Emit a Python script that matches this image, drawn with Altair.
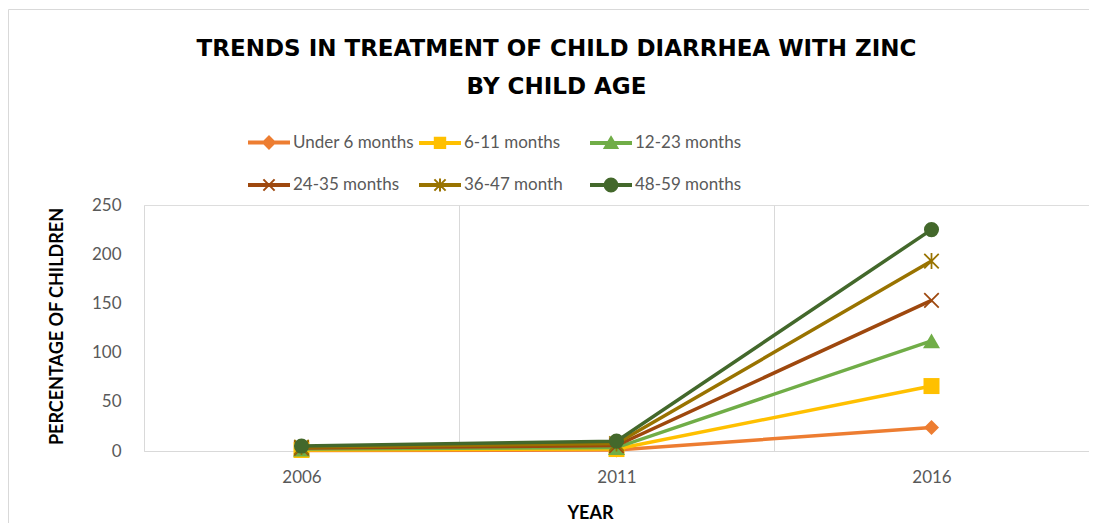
import altair as alt
import pandas as pd

# ---- data (stacked line chart) ----
years = [2006, 2011, 2016]
series = ["Under 6 months", "6-11 months", "12-23 months",
          "24-35 months", "36-47 month", "48-59 months"]
under_6 = [0.5, 1.0, 24]
m_6_11 = [0.5, 1.0, 42]
m_12_23 = [1.0, 1.5, 46]
m_24_35 = [1.0, 2.0, 41]
m_36_47 = [1.0, 2.0, 40]
m_48_59 = [1.0, 2.5, 32]
y_ticks = [0, 50, 100, 150, 200, 250]
x_grid = [2003.5, 2006, 2008.5, 2011, 2013.5, 2016, 2018.5]

values = [under_6, m_6_11, m_12_23, m_24_35, m_36_47, m_48_59]
colors = ["#ED7D31", "#FFC000", "#70AD47", "#9E480E", "#997300", "#43682B"]

rows = []
for i, (name, vals) in enumerate(zip(series, values)):
    for yr, v in zip(years, vals):
        rows.append({"year": yr, "series": name, "order": i, "value": v})
df = pd.DataFrame(rows)

# ---- marker styles ----
X_PATH = "M-1,-1L1,1M-1,1L1,-1"
STAR_PATH = "M-1,-1L1,1M-1,1L1,-1M0,-1.1L0,1.1"
markers = [
    dict(shape="diamond", filled=True, size=225),
    dict(shape="square", filled=True, size=256),
    dict(shape="triangle-up", filled=True, size=289),
    dict(shape=X_PATH, filled=False, size=210, strokeWidth=1.75),
    dict(shape=STAR_PATH, filled=False, size=210, strokeWidth=1.75),
    dict(shape="circle", filled=True, size=227),
]

LINE = "M-1,-0.05H1V0.05H-1Z"
legend_paths = [
    LINE + "M0,-0.3L0.3,0L0,0.3L-0.3,0Z",
    LINE + "M-0.26,-0.26H0.26V0.26H-0.26Z",
    LINE + "M0,-0.3L0.32,0.24L-0.32,0.24Z",
    LINE + "M-0.28,-0.28L0.28,0.28M-0.28,0.28L0.28,-0.28",
    LINE + "M-0.28,-0.28L0.28,0.28M-0.28,0.28L0.28,-0.28M0,-0.32L0,0.32",
    LINE + "M-0.32,0A0.32,0.32 0 1,0 0.32,0A0.32,0.32 0 1,0 -0.32,0Z",
]

GRAY = "#595959"
GRID = "#D9D9D9"

x_enc = alt.X(
    "year:Q",
    scale=alt.Scale(domain=[2003.5, 2018.5], nice=False, zero=False),
    axis=alt.Axis(
        values=x_grid,
        labelExpr="datum.value % 1 === 0 ? toString(datum.value) : ''",
        labelOverlap=False, labelFlush=False,
        ticks=False, tickSize=0, labelPadding=18,
        labelFont="Lato", labelFontSize=17, labelColor=GRAY,
        domain=True, domainColor=GRID, domainWidth=1,
        grid=True, gridColor=GRID, gridWidth=1,
        gridOpacity={"condition": {"test": "datum.value % 1 === 0", "value": 0}, "value": 1},
        title="YEAR", titleFont="Lato", titleFontSize=18, titleFontWeight="bold",
        titleColor="#000000", titleX=446, titleY=62, titleBaseline="middle",
        titleAlign="center",
    ),
)
y_enc = alt.Y(
    "total:Q",
    scale=alt.Scale(domain=[0, 250], nice=False),
    axis=alt.Axis(
        values=y_ticks, grid=False, domain=False, ticks=False, tickSize=0,
        labelPadding=23, labelFont="Lato", labelFontSize=17, labelColor=GRAY,
        title="PERCENTAGE OF CHILDREN", titleFont="Lato", titleFontSize=18,
        titleFontWeight="bold", titleColor="#000000",
        titleX=-87, titleY=121, titleAngle=270, titleBaseline="middle",
        titleAlign="center",
    ),
)

base = alt.Chart(df).transform_window(
    total="sum(value)", groupby=["year"],
    sort=[alt.SortField("order")], frame=[None, 0],
)

layers = []

# chart-area border
frame = alt.Chart(pd.DataFrame({"frame": [0]})).mark_rect(
    fillOpacity=0, stroke=GRID, strokeWidth=1
).encode(
    x=alt.value(-135.5), x2=alt.value(950),
    y=alt.value(-195.5), y2=alt.value(400),
)
layers.append(frame)

for i, name in enumerate(series):
    sub = base.transform_filter(alt.datum.series == name)
    layers.append(
        sub.mark_line(color=colors[i], strokeWidth=3.5).encode(x=x_enc, y=y_enc)
    )
    m = markers[i]
    layers.append(
        sub.mark_point(color=colors[i], opacity=1, **m).encode(x=x_enc, y=y_enc)
    )

leg = alt.Legend(
    title=None, orient="none", legendX=104, legendY=-84, columns=3,
    direction="horizontal",
    gridAlign="all", columnPadding=2, rowPadding=11, padding=0,
    symbolSize=1600, symbolStrokeWidth=2, symbolOpacity=1,
    labelFont="Lato", labelFontSize=17, labelColor=GRAY, labelOffset=3,
    labelLimit=400,
)
legend_layer = base.transform_filter("false").mark_point(filled=True, opacity=1).encode(
    x=x_enc, y=y_enc,
    fill=alt.Fill("series:N", scale=alt.Scale(domain=series, range=colors), legend=leg),
    stroke=alt.Stroke("series:N", scale=alt.Scale(domain=series, range=colors), legend=leg),
    shape=alt.Shape("series:N", scale=alt.Scale(domain=series, range=legend_paths), legend=leg),
)
layers.append(legend_layer)

chart = alt.layer(*layers).properties(
    width=945, height=246,
    autosize=alt.AutoSizeParams(type="none"),
    padding={"left": 136, "top": 197, "right": 0, "bottom": 72},
    title=alt.TitleParams(
        text=["TRENDS IN TREATMENT OF CHILD DIARRHEA WITH ZINC", "BY CHILD AGE"],
        font="DejaVu Sans", fontSize=23, fontWeight="bold", color="#000000",
        anchor="middle", offset=0, dx=-60, dy=90, lineHeight=38,
    ),
).configure_view(strokeOpacity=0).configure(background="#FFFFFF")

chart.save("out.html", embed_options={"renderer": "svg", "actions": False})
